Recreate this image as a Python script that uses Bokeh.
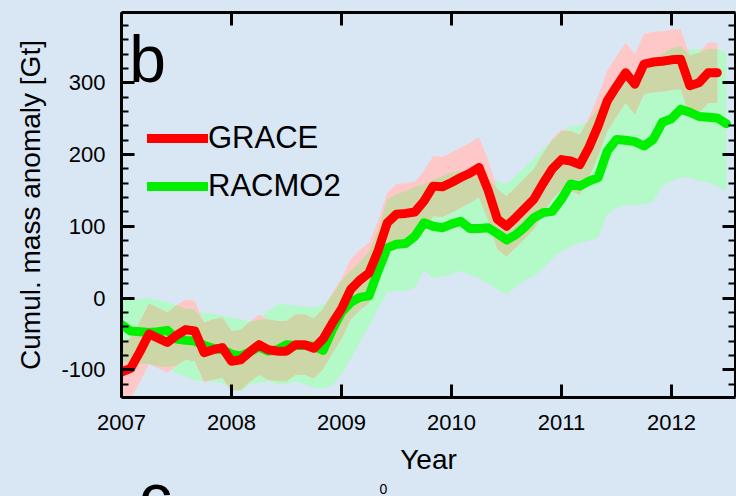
import numpy as np
from bokeh.plotting import figure
from bokeh.layouts import column
from bokeh.models import (Range1d, LinearAxis, FixedTicker, Legend, LegendItem, Label)
from bokeh.embed import file_html
from bokeh.resources import INLINE

# ---------------- data (months since Jan 2007) ----------------
grace_month = list(range(66))
grace = [-103, -98, -75, -50, -56, -62, -52, -44, -46, -76, -72, -69,
         -88, -86, -75, -65, -72, -74, -74, -65, -65, -70, -57, -35,
         -15, 12, 25, 35, 66, 105, 117, 118, 120, 135, 156, 155,
         161, 168, 174, 182, 150, 110, 100, 112, 125, 138, 160, 180,
         193, 191, 186, 210, 240, 275, 295, 314, 298, 326, 329, 330,
         332, 333, 296, 300, 314, 314]
grace_err = 42  # GRACE uncertainty [Gt]

racmo_month = list(range(67))
racmo = [-37, -46, -47, -48, -47, -45, -57, -59, -60, -66, -70, -72,
         -78, -81, -75, -68, -74, -72, -65, -66, -66, -67, -73, -44,
         -20, -6, 1, 3, 38, 70, 75, 76, 86, 105, 100, 98,
         103, 107, 97, 97, 98, 90, 81, 88, 99, 112, 119, 121,
         138, 159, 156, 163, 168, 205, 221, 220, 218, 212, 221, 245,
         250, 263, 259, 253, 252, 251, 243]
racmo_upper = [-2, -2, -1, 0, -3, -6, -10, -15, -16, -22, -22, -25,
               -27, -30, -33, -30, -18, -9, -9, -11, -12, -13, -9, 5,
               24, 38, 50, 65, 95, 138, 145, 149, 155, 159, 165, 170,
               175, 177, 172, 168, 168, 163, 159, 170, 182, 195, 208, 220,
               232, 240, 240, 248, 265, 285, 298, 305, 310, 326, 332, 340,
               348, 351, 346, 347, 347, 347, 342]
racmo_lower = [-88, -90, -92, -92, -95, -96, -105, -110, -115, -116, -117, -118,
               -128, -130, -120, -118, -116, -120, -120, -116, -120, -125, -125, -122,
               -106, -85, -62, -40, -15, 8, 10, 10, 15, 38, 28, 30,
               33, 38, 32, 28, 20, 12, 5, 15, 25, 30, 42, 55,
               65, 72, 77, 80, 84, 117, 125, 130, 130, 130, 135, 156,
               162, 168, 168, 163, 161, 155, 149]

x_ticks = [2007, 2008, 2009, 2010, 2011, 2012]
x_tick_labels = ["2007", "2008", "2009", "2010", "2011", "2012"]
y_ticks = [-100, 0, 100, 200, 300]
y_tick_labels = ["-100", "0", "100", "200", "300"]
y_minor_ticks = [-120, -80, -60, -40, -20, 20, 40, 60, 80, 120, 140, 160, 180,
                 220, 240, 260, 280, 320, 340, 360, 380]

# ---------------- derived ----------------
gx = 2007 + np.array(grace_month) / 12.0
rx = 2007 + np.array(racmo_month) / 12.0
g = np.array(grace, dtype=float)
g_lo, g_hi = g - grace_err, g + grace_err
r_lo = np.array(racmo_lower, dtype=float)
r_hi = np.array(racmo_upper, dtype=float)
n = len(g)
ov_lo = np.maximum(g_lo, r_lo[:n])
ov_hi = np.minimum(g_hi, r_hi[:n])
ov_hi = np.maximum(ov_hi, ov_lo)

BG = "#d9e6f4"
FONT = "Liberation Sans"
XR = (2007, 2012.582)

p = figure(width=736, height=482, output_backend="svg", toolbar_location=None,
           x_range=Range1d(*XR), y_range=Range1d(-138.6, 398),
           min_border_left=121, min_border_right=1, min_border_top=12,
           min_border_bottom=85)
p.background_fill_color = BG
p.border_fill_color = BG
p.outline_line_color = None
p.grid.visible = False

p.varea(x=rx, y1=r_lo, y2=r_hi, fill_color="#b4fac8")
p.varea(x=gx, y1=g_lo, y2=g_hi, fill_color="#ffc8c8")
p.varea(x=gx, y1=ov_lo, y2=ov_hi, fill_color="#cdd6a6")

green_r = p.line(rx, racmo, line_width=9, line_color="#00f000",
                 line_join="round", line_cap="round")
red_r = p.line(gx, grace, line_width=9, line_color="#ff0000",
               line_join="round", line_cap="round")

xt = FixedTicker(ticks=x_ticks, minor_ticks=[])
yt = FixedTicker(ticks=y_ticks, minor_ticks=y_minor_ticks)


def style(ax):
    ax.axis_line_width = 3
    ax.axis_line_color = "black"
    ax.major_tick_in = 13
    ax.major_tick_out = 0
    ax.minor_tick_in = 7
    ax.minor_tick_out = 0
    ax.major_tick_line_width = 3
    ax.minor_tick_line_width = 2
    ax.major_tick_line_color = "black"
    ax.minor_tick_line_color = "black"


xa = p.xaxis[0]
xa.ticker = xt
xa.major_label_overrides = {t: s for t, s in zip(x_ticks, x_tick_labels)}
style(xa)
xa.major_label_text_font = FONT
xa.major_label_text_font_size = "22px"
xa.major_label_text_color = "black"
xa.major_label_standoff = 17
xa.axis_label = "Year"
xa.axis_label_text_font = FONT
xa.axis_label_text_font_size = "28px"
xa.axis_label_text_font_style = "normal"
xa.axis_label_text_color = "black"
xa.axis_label_standoff = 11

ya = p.yaxis[0]
ya.ticker = yt
ya.major_label_overrides = {t: s for t, s in zip(y_ticks, y_tick_labels)}
style(ya)
ya.major_label_text_font = FONT
ya.major_label_text_font_size = "22px"
ya.major_label_text_color = "black"
ya.major_label_standoff = 16
ya.axis_label = "Cumul. mass anomaly [Gt]"
ya.axis_label_text_font = FONT
ya.axis_label_text_font_size = "28px"
ya.axis_label_text_font_style = "normal"
ya.axis_label_text_color = "black"
ya.axis_label_standoff = 12

for loc, tk in (("above", xt), ("right", yt)):
    ax = LinearAxis(ticker=tk, major_label_text_font_size="1px",
                    major_label_text_color=None, major_label_standoff=0,
                    major_label_overrides={t: "" for t in tk.ticks})
    style(ax)
    p.add_layout(ax, loc)

legend = Legend(items=[LegendItem(label="GRACE", renderers=[red_r]),
                       LegendItem(label="RACMO2", renderers=[green_r])],
                location=(26, 191), background_fill_alpha=0, border_line_color=None,
                padding=0, margin=0, spacing=8, glyph_width=61, glyph_height=40,
                label_height=40, label_standoff=0, label_text_font=FONT,
                label_text_font_size="31px", label_text_color="black")
p.add_layout(legend)

p.add_layout(Label(x=2007.07, y=333, text="b", text_font=FONT, text_font_size="66px",
                   text_baseline="alphabetic", text_color="black"))

# strip below the axis: top of the next panel's letter and a stray "0"
p2 = figure(width=736, height=14, output_backend="svg", toolbar_location=None,
            x_range=Range1d(*XR), y_range=Range1d(0, 14),
            x_axis_location=None, y_axis_location=None,
            min_border_left=121, min_border_right=1, min_border_top=0,
            min_border_bottom=0)
p2.background_fill_color = BG
p2.border_fill_color = BG
p2.outline_line_color = None
p2.grid.visible = False
p2.add_layout(Label(x=2007.16, y=0, text="c", text_font=FONT, text_font_size="66px",
                    text_baseline="alphabetic", text_color="black"))
p2.add_layout(Label(x=2009.38, y=8, text="0", text_font=FONT, text_font_size="14px",
                    text_baseline="alphabetic", text_align="center", text_color="black"))

layout = column(p, p2, spacing=0, styles={"background-color": BG})
open("out.html", "w").write(file_html(layout, INLINE))
